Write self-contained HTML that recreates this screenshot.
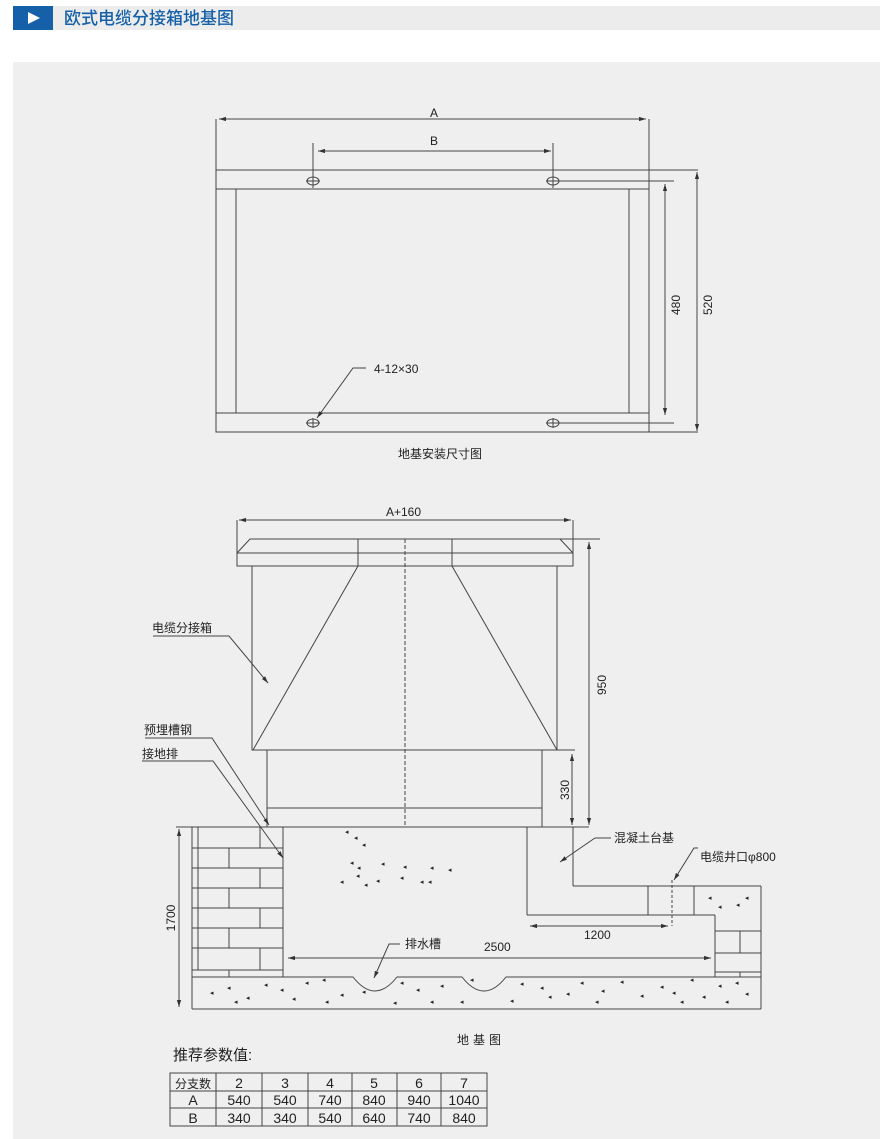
<!DOCTYPE html>
<html><head><meta charset="utf-8"><style>
html,body{margin:0;padding:0;background:#fff;}
svg{display:block;}
text{font-family:"Liberation Sans","Noto Sans CJK SC",sans-serif;fill:#222;}
</style></head><body>
<svg width="880" height="1139" viewBox="0 0 880 1139" xmlns="http://www.w3.org/2000/svg">
<defs>
<marker id="ar" viewBox="0 0 10 10" refX="10" refY="5" markerWidth="7" markerHeight="7" orient="auto-start-reverse" markerUnits="userSpaceOnUse"><path d="M0,2 L10,5 L0,8 z" fill="#333"/></marker>
</defs>
<rect x="0" y="0" width="880" height="1139" fill="#fff"/>
<rect x="13" y="6" width="867" height="24" fill="#ececec"/>
<rect x="13" y="6" width="40" height="24" fill="#1560a8"/>
<path d="M28,12 L40,18 L28,24 z" fill="#fff"/>
<text x="64" y="24" font-size="17" font-weight="500" style="fill:#1560a8">欧式电缆分接箱地基图</text>
<rect x="13" y="62" width="867" height="1077" fill="#efefef"/>

<g stroke="#444" stroke-width="1" fill="none">
<rect x="216" y="170" width="433" height="262"/>
<line x1="216" y1="189" x2="649" y2="189"/>
<line x1="216" y1="413" x2="649" y2="413"/>
<line x1="236" y1="189" x2="236" y2="413"/>
<line x1="629" y1="189" x2="629" y2="413"/>
<line x1="216" y1="119" x2="216" y2="170"/>
<line x1="649" y1="119" x2="649" y2="170"/>
<line x1="219" y1="119" x2="646" y2="119" marker-start="url(#ar)" marker-end="url(#ar)"/>
<line x1="313" y1="143" x2="313" y2="188"/>
<line x1="553" y1="143" x2="553" y2="188"/>
<line x1="318" y1="151" x2="551" y2="151" marker-start="url(#ar)" marker-end="url(#ar)"/>
<line x1="649" y1="170" x2="698" y2="170"/>
<line x1="560" y1="181" x2="674" y2="181"/>
<line x1="560" y1="423" x2="674" y2="423"/>
<line x1="649" y1="432" x2="698" y2="432"/>
<line x1="665" y1="184" x2="665" y2="415" marker-start="url(#ar)" marker-end="url(#ar)"/>
<line x1="697" y1="172" x2="697" y2="431" marker-start="url(#ar)" marker-end="url(#ar)"/>
<ellipse cx="313" cy="181" rx="6" ry="4"/><line x1="313" y1="176" x2="313" y2="186"/><line x1="306" y1="181" x2="320" y2="181"/>
<ellipse cx="553" cy="181" rx="6" ry="4"/><line x1="553" y1="176" x2="553" y2="186"/><line x1="546" y1="181" x2="560" y2="181"/>
<ellipse cx="313" cy="423" rx="6" ry="4"/><line x1="313" y1="418" x2="313" y2="428"/><line x1="306" y1="423" x2="320" y2="423"/>
<ellipse cx="553" cy="423" rx="6" ry="4"/><line x1="553" y1="418" x2="553" y2="428"/><line x1="546" y1="423" x2="560" y2="423"/>
<polyline points="366,368 353,368 317,418" marker-end="url(#ar)"/>

<line x1="237" y1="520" x2="237" y2="553"/>
<line x1="573" y1="520" x2="573" y2="553"/>
<line x1="239" y1="520" x2="571" y2="520" marker-start="url(#ar)" marker-end="url(#ar)"/>
<polygon points="250,539 560,539 573,553 573,566 237,566 237,553"/>
<line x1="237" y1="553" x2="573" y2="553"/>
<line x1="358" y1="539" x2="358" y2="566"/>
<line x1="452" y1="539" x2="452" y2="566"/>
<rect x="252" y="566" width="305" height="184"/>
<line x1="358" y1="566" x2="253" y2="750"/>
<line x1="452" y1="566" x2="557" y2="750"/>
<line x1="405" y1="539" x2="405" y2="827" stroke-dasharray="4,2"/>
<line x1="267" y1="750" x2="267" y2="827"/>
<line x1="542" y1="750" x2="542" y2="827"/>
<line x1="267" y1="808" x2="542" y2="808"/>
<line x1="557" y1="750" x2="575" y2="750"/>
<line x1="560" y1="539" x2="600" y2="539"/>
<line x1="589" y1="542" x2="589" y2="825" marker-start="url(#ar)" marker-end="url(#ar)"/>
<line x1="572" y1="754" x2="572" y2="825" marker-start="url(#ar)" marker-end="url(#ar)"/>
<polyline points="153,636 229,636 268,683" marker-end="url(#ar)"/>
<polyline points="145,738 212,738 269,825" marker-end="url(#ar)"/>
<polyline points="142,761 213,761 283,858" marker-end="url(#ar)"/>

<line x1="176" y1="827" x2="589" y2="827"/>
<line x1="179" y1="829" x2="179" y2="1007" marker-start="url(#ar)" marker-end="url(#ar)"/>
<line x1="192" y1="827" x2="192" y2="1009"/>
<line x1="283" y1="827" x2="283" y2="977"/>
<line x1="198" y1="827" x2="198" y2="970"/>
<g>
<line x1="192" y1="848" x2="283" y2="848"/><line x1="192" y1="868" x2="283" y2="868"/>
<line x1="192" y1="888" x2="283" y2="888"/><line x1="192" y1="908" x2="283" y2="908"/>
<line x1="192" y1="928" x2="283" y2="928"/><line x1="192" y1="948" x2="283" y2="948"/>
<line x1="192" y1="970" x2="283" y2="970"/>
<line x1="260" y1="827" x2="260" y2="848"/><line x1="229" y1="848" x2="229" y2="868"/>
<line x1="260" y1="868" x2="260" y2="888"/><line x1="229" y1="888" x2="229" y2="908"/>
<line x1="260" y1="908" x2="260" y2="928"/><line x1="229" y1="928" x2="229" y2="948"/>
<line x1="260" y1="948" x2="260" y2="970"/><line x1="229" y1="970" x2="229" y2="977"/>
</g>
<line x1="527" y1="827" x2="527" y2="915"/>
<line x1="527" y1="915" x2="715" y2="915"/>
<line x1="573" y1="827" x2="573" y2="886"/>
<line x1="573" y1="886" x2="761" y2="886"/>
<line x1="648" y1="886" x2="648" y2="915"/>
<line x1="694" y1="886" x2="694" y2="915"/>
<line x1="761" y1="886" x2="761" y2="1009"/>
<line x1="715" y1="915" x2="715" y2="977"/>
<line x1="715" y1="931" x2="761" y2="931"/>
<line x1="715" y1="953" x2="761" y2="953"/>
<line x1="715" y1="972" x2="761" y2="972"/>
<line x1="740" y1="931" x2="740" y2="953"/>
<line x1="740" y1="972" x2="740" y2="977"/>
<line x1="672" y1="880" x2="672" y2="926" stroke-dasharray="3,2"/>
<path d="M192,977 L353,977 Q375,1005 397,977 L462,977 Q484,1005 506,977 L761,977"/>
<line x1="192" y1="1009" x2="761" y2="1009"/>
<line x1="288" y1="958" x2="711" y2="958" marker-start="url(#ar)" marker-end="url(#ar)"/>
<line x1="530" y1="926" x2="668" y2="926" marker-start="url(#ar)" marker-end="url(#ar)"/>
<polyline points="400,944 389,944 374,978" marker-end="url(#ar)"/>
<polyline points="611,838 595,838 560,862" marker-end="url(#ar)"/>
<polyline points="698,848 694,848 674,880" marker-end="url(#ar)"/>
</g>

<g fill="#555" font-size="7" font-family="DejaVu Sans">
<text x="345" y="834">◂</text><text x="354" y="840">◂</text><text x="362" y="847">◂</text>
<text x="350" y="865">◂</text><text x="357" y="870">◂</text><text x="381" y="866">◂</text><text x="403" y="869">◂</text>
<text x="430" y="870">◂</text><text x="448" y="872">◂</text><text x="400" y="880">◂</text><text x="376" y="883">◂</text>
<text x="340" y="884">◂</text><text x="364" y="887">◂</text><text x="356" y="878">◂</text><text x="420" y="884">◂</text><text x="428" y="884">◂</text>
<text x="227" y="990">◂</text><text x="210" y="995">◂</text><text x="264" y="987">◂</text><text x="280" y="992">◂</text>
<text x="305" y="985">◂</text><text x="322" y="982">◂</text><text x="246" y="1000">◂</text><text x="234" y="1004">◂</text>
<text x="292" y="1001">◂</text><text x="325" y="1004">◂</text><text x="340" y="997">◂</text><text x="362" y="994">◂</text>
<text x="400" y="985">◂</text><text x="416" y="992">◂</text><text x="393" y="1005">◂</text><text x="430" y="1004">◂</text>
<text x="440" y="988">◂</text><text x="470" y="982">◂</text><text x="520" y="986">◂</text><text x="540" y="990">◂</text>
<text x="548" y="999">◂</text><text x="566" y="996">◂</text><text x="580" y="985">◂</text><text x="601" y="993">◂</text>
<text x="620" y="984">◂</text><text x="640" y="998">◂</text><text x="660" y="989">◂</text><text x="672" y="995">◂</text>
<text x="690" y="982">◂</text><text x="702" y="999">◂</text><text x="718" y="988">◂</text><text x="735" y="985">◂</text>
<text x="745" y="996">◂</text><text x="460" y="1004">◂</text><text x="510" y="1003">◂</text><text x="595" y="1004">◂</text>
<text x="680" y="1004">◂</text><text x="725" y="1004">◂</text>
<text x="708" y="900">◂</text><text x="718" y="909">◂</text><text x="736" y="907">◂</text><text x="745" y="900">◂</text>
</g>

<g font-size="12">
<text x="430" y="117">A</text>
<text x="430" y="145">B</text>
<text x="374" y="373">4-12×30</text>
<text x="680" y="305" transform="rotate(-90 680 305)" text-anchor="middle">480</text>
<text x="712" y="305" transform="rotate(-90 712 305)" text-anchor="middle">520</text>
<text x="398" y="458">地基安装尺寸图</text>
<text x="386" y="516">A+160</text>
<text x="152" y="632">电缆分接箱</text>
<text x="144" y="734">预埋槽钢</text>
<text x="142" y="758">接地排</text>
<text x="606" y="685" transform="rotate(-90 606 685)" text-anchor="middle">950</text>
<text x="569" y="790" transform="rotate(-90 569 790)" text-anchor="middle">330</text>
<text x="175" y="918" transform="rotate(-90 175 918)" text-anchor="middle">1700</text>
<text x="614" y="842">混凝土台基</text>
<text x="700" y="861">电缆井口φ800</text>
<text x="584" y="939">1200</text>
<text x="405" y="948">排水槽</text>
<text x="484" y="951">2500</text>
<text x="457" y="1044" letter-spacing="4">地基图</text>
<text x="173" y="1060" font-size="15">推荐参数值:</text>
</g>

<g stroke="#444" stroke-width="1" fill="none">
<rect x="170" y="1073" width="317" height="53"/>
<line x1="170" y1="1091" x2="487" y2="1091"/>
<line x1="170" y1="1108" x2="487" y2="1108"/>
<line x1="216" y1="1073" x2="216" y2="1126"/>
<line x1="262" y1="1073" x2="262" y2="1126"/>
<line x1="308" y1="1073" x2="308" y2="1126"/>
<line x1="352" y1="1073" x2="352" y2="1126"/>
<line x1="397" y1="1073" x2="397" y2="1126"/>
<line x1="441" y1="1073" x2="441" y2="1126"/>
</g>
<g font-size="14" text-anchor="middle">
<text x="193" y="1088" font-size="12">分支数</text>
<text x="239" y="1088">2</text><text x="285" y="1088">3</text><text x="330" y="1088">4</text><text x="374" y="1088">5</text><text x="419" y="1088">6</text><text x="464" y="1088">7</text>
<text x="193" y="1105">A</text><text x="239" y="1105">540</text><text x="285" y="1105">540</text><text x="330" y="1105">740</text><text x="374" y="1105">840</text><text x="419" y="1105">940</text><text x="464" y="1105">1040</text>
<text x="193" y="1123">B</text><text x="239" y="1123">340</text><text x="285" y="1123">340</text><text x="330" y="1123">540</text><text x="374" y="1123">640</text><text x="419" y="1123">740</text><text x="464" y="1123">840</text>
</g>
</svg>
</body></html>
